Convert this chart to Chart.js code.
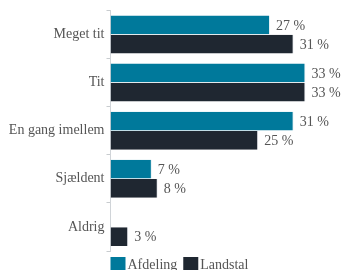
<!DOCTYPE html>
<html>
<head>
<meta charset="utf-8">
<script src="https://cdn.jsdelivr.net/npm/chart.js@4/dist/chart.umd.min.js"></script>
<style>
html,body{margin:0;padding:0;background:#fff;overflow:hidden;}
#wrap{width:341px;height:282px;position:relative;}
</style>
</head>
<body>
<div id="wrap"><canvas id="c"></canvas></div>
<script>
const categories = ["Meget tit", "Tit", "En gang imellem", "Sjældent", "Aldrig"];
const afdeling = [27, 33, 31, 7, 0];
const landstal = [31, 33, 25, 8, 3];
const seriesNames = ["Afdeling", "Landstal"];
const seriesColors = ["#00799b", "#1f2731"];

const FONT = "'Liberation Serif', 'DejaVu Serif', serif";

const valueLabels = {
  id: 'valueLabels',
  afterDatasetsDraw(chart) {
    const ctx = chart.ctx;
    ctx.save();
    ctx.font = "14px " + FONT;
    ctx.fillStyle = "#555";
    ctx.textBaseline = "middle";
    ctx.textAlign = "left";
    chart.data.datasets.forEach((ds, di) => {
      const meta = chart.getDatasetMeta(di);
      meta.data.forEach((bar, i) => {
        const v = ds.data[i];
        if (!v) return;
        ctx.fillText(v + " %", bar.x + 6, bar.y + 1);
      });
    });
    ctx.restore();
  }
};

const customLegend = {
  id: 'customLegend',
  afterDraw(chart) {
    const ctx = chart.ctx;
    const a = chart.chartArea;
    let x = a.left;
    const y = a.bottom + 6;
    ctx.save();
    ctx.font = "14px " + FONT;
    ctx.textBaseline = "middle";
    ctx.textAlign = "left";
    chart.data.datasets.forEach(ds => {
      ctx.fillStyle = ds.backgroundColor;
      ctx.fillRect(x, y, 15, 15);
      ctx.fillStyle = "#555";
      ctx.fillText(ds.label, x + 17, y + 8);
      x += 17 + ctx.measureText(ds.label).width + 6;
    });
    ctx.restore();
  }
};

new Chart(document.getElementById('c'), {
  type: 'bar',
  data: {
    labels: categories,
    datasets: [
      { label: seriesNames[0], data: afdeling, backgroundColor: seriesColors[0], borderColor: "rgba(220,235,240,0.7)", borderWidth: {right:1, top:0, bottom:0, left:0} },
      { label: seriesNames[1], data: landstal, backgroundColor: seriesColors[1], borderColor: "rgba(220,225,230,0.6)", borderWidth: {right:1, top:0, bottom:0, left:0} }
    ]
  },
  options: {
    indexAxis: 'y',
    responsive: true,
    maintainAspectRatio: false,
    animation: false,
    categoryPercentage: 0.8,
    barPercentage: 0.975,
    layout: { padding: { top: 5, right: 6, bottom: 31, left: 0 } },
    plugins: { legend: { display: false }, tooltip: { enabled: false } },
    scales: {
      x: { display: false, min: 0, max: 38 },
      y: {
        afterFit(scale) { scale.width = 110.5; },
        border: { display: true, color: "#d0d4d8", width: 1 },
        grid: { display: true, drawOnChartArea: false, drawTicks: true, tickLength: 4, color: "#c8cccf" },
        ticks: { color: "#555", font: { family: FONT, size: 14 }, padding: 2 }
      }
    }
  },
  plugins: [valueLabels, customLegend]
});
</script>
</body>
</html>
